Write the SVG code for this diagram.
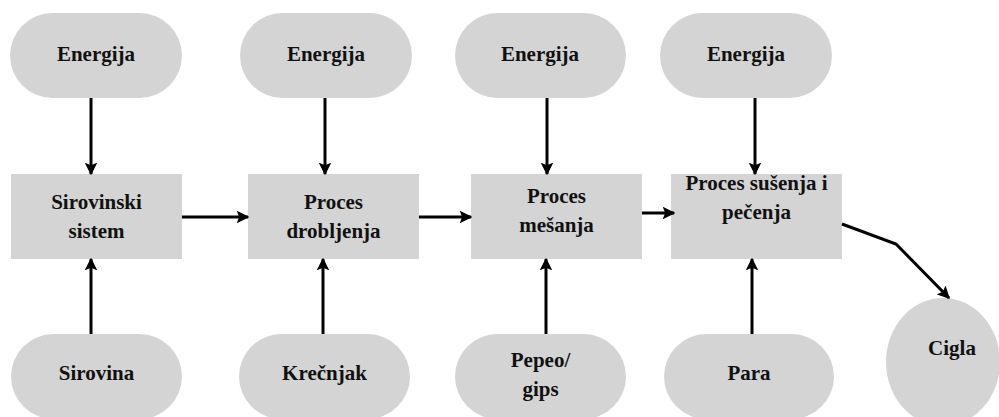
<svg xmlns="http://www.w3.org/2000/svg" width="999" height="417" viewBox="0 0 999 417">
<defs>
<marker id="ah" viewBox="0 0 10 10" refX="9" refY="5" markerWidth="4.2" markerHeight="4.2" markerUnits="strokeWidth" orient="auto">
<path d="M0,0 L10,5 L0,10 L2,5 Z" fill="#000"/>
</marker>
<style>
.shape{fill:#d4d4d4;stroke:none}
.t{font-weight:bold;font-size:21px;fill:#111;text-anchor:middle}
.c{fill:none;stroke:#000;stroke-width:3;marker-end:url(#ah)}
</style>
</defs>
<rect width="999" height="417" fill="#fff"/>
<g font-family="Liberation Serif, DejaVu Serif, serif">
<g id="energija1"><rect class="shape" x="10" y="13" width="172" height="85" rx="42.5"/><text class="t" x="96" y="61">Energija</text></g>
<g id="energija2"><rect class="shape" x="240" y="13" width="172" height="85" rx="42.5"/><text class="t" x="326" y="61">Energija</text></g>
<g id="energija3"><rect class="shape" x="455" y="13" width="171" height="85" rx="42.5"/><text class="t" x="540" y="61">Energija</text></g>
<g id="energija4"><rect class="shape" x="660" y="13" width="172" height="85" rx="42.5"/><text class="t" x="746" y="61">Energija</text></g>

<g id="sirovinski"><rect class="shape" x="11" y="174" width="171" height="85"/><text class="t" x="96.5" y="209">Sirovinski</text><text class="t" x="96.5" y="238">sistem</text></g>
<g id="drobljenje"><rect class="shape" x="248" y="174" width="171" height="85"/><text class="t" x="333.5" y="209">Proces</text><text class="t" x="333.5" y="238">drobljenja</text></g>
<g id="mesanje"><rect class="shape" x="471" y="174" width="171" height="85"/><text class="t" x="556.5" y="203">Proces</text><text class="t" x="556.5" y="232">mešanja</text></g>
<g id="susenje"><rect class="shape" x="671" y="174" width="171" height="85"/><text class="t" x="756.5" y="190">Proces sušenja i</text><text class="t" x="756.5" y="219">pečenja</text></g>

<g id="sirovina"><rect class="shape" x="11" y="334" width="171" height="85" rx="42.5"/><text class="t" x="96.5" y="380">Sirovina</text></g>
<g id="krecnjak"><rect class="shape" x="239" y="334" width="171" height="85" rx="42.5"/><text class="t" x="324.5" y="380">Krečnjak</text></g>
<g id="pepeo"><rect class="shape" x="455" y="334" width="171" height="85" rx="42.5"/><text class="t" x="540.5" y="367">Pepeo/</text><text class="t" x="540.5" y="396">gips</text></g>
<g id="para"><rect class="shape" x="664" y="334" width="170" height="85" rx="42.5"/><text class="t" x="749" y="380">Para</text></g>
<g id="cigla"><ellipse class="shape" cx="943" cy="362" rx="57" ry="64"/><text class="t" x="952" y="355">Cigla</text></g>
</g>
<g id="connectors">
<line class="c" x1="91" y1="98" x2="91" y2="174"/>
<line class="c" x1="325" y1="98" x2="325" y2="174"/>
<line class="c" x1="547" y1="98" x2="547" y2="174"/>
<line class="c" x1="755" y1="98" x2="755" y2="174"/>
<line class="c" x1="91" y1="334" x2="91" y2="259"/>
<line class="c" x1="323" y1="334" x2="323" y2="259"/>
<line class="c" x1="546" y1="334" x2="546" y2="259"/>
<line class="c" x1="752" y1="334" x2="752" y2="259"/>
<line class="c" x1="182" y1="217" x2="248" y2="217"/>
<line class="c" x1="419" y1="217" x2="471" y2="217"/>
<line class="c" x1="642" y1="213" x2="674" y2="213"/>
<polyline class="c" points="842,224 896,244 949,298"/>
</g>
</svg>
